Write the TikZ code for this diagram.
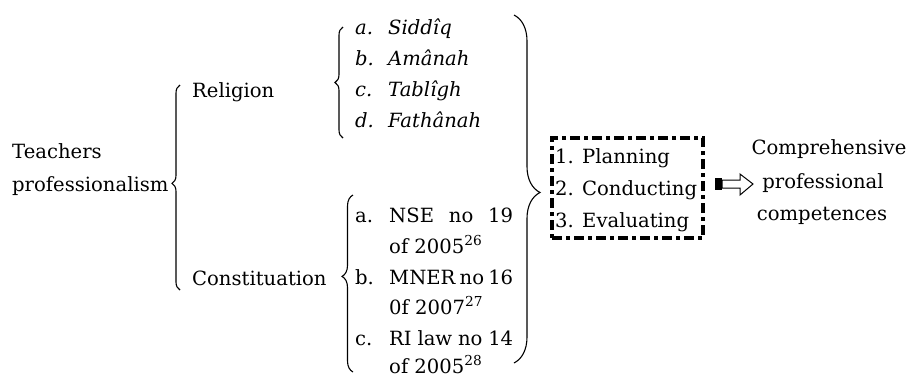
\documentclass[tikz,border=0pt]{standalone}
\usepackage{fontspec}
\setmainfont{DejaVu Serif}
\usetikzlibrary{decorations.pathreplacing}
\tikzset{every node/.style={inner sep=0pt, font=\fontsize{19.6}{24}\selectfont}}
\tikzset{lbl/.style={anchor=base west}}
\tikzset{itm/.style={anchor=base west, font=\fontsize{19.6}{24}\selectfont\itshape}}
\tikzset{mid/.style={anchor=base}}
\tikzset{curly/.style={decorate, line width=1.1pt}}
\tikzset{dashbox/.style={draw, line width=3.2pt,
    dash pattern=on 10pt off 4pt on 4pt off 4pt,
    minimum width=151pt, minimum height=100pt}}

\begin{document}
\begin{tikzpicture}[x=1pt, y=-1pt]
    \useasboundingbox (0,0) rectangle (911,376);
    \node[lbl] (teach) at (12,158) {Teachers};
    \node[lbl] (profm) at (12,191) {professionalism};
    \draw[curly, decoration={brace, amplitude=8pt, aspect=0.52}] (180,290) -- (180,85);
    \node[lbl] (relig) at (192,97) {Religion};
    \node[lbl] (const) at (192,285) {Constituation};
    % religion
    \draw[curly, decoration={brace, amplitude=8pt, aspect=0.5}] (343,138) -- (343,27);
    \node[itm] (ra) at (355,34) {a.};
    \node[itm] (rb) at (355,65) {b.};
    \node[itm] (rc) at (355,96) {c.};
    \node[itm] (rd) at (355,127) {d.};
    \node[itm] (siddiq) at (388,34) {Siddîq};
    \node[itm] (amanah) at (388,65) {Amânah};
    \node[itm] (tabligh) at (388,96) {Tablîgh};
    \node[itm] (fathanah) at (388,127) {Fathânah};
    % constitution
    \draw[curly, decoration={brace, amplitude=11pt, aspect=0.54}] (353,372) -- (353,195);
    \node[lbl] (ca) at (355,222) {a.};
    \node[lbl] (cb) at (355,284) {b.};
    \node[lbl] (cc) at (355,345) {c.};
    \node[lbl] (nse) at (389,222) {\makebox[124pt][s]{NSE no 19}};
    \node[lbl] (nse2) at (389,253) {of 2005\textsuperscript{26}};
    \node[lbl] (mner) at (389,284) {\makebox[124pt][s]{MNER no 16}};
    \node[lbl] (mner2) at (389,314) {0f 2007\textsuperscript{27}};
    \node[lbl] (ri) at (389,345) {\makebox[124pt][s]{RI law no 14}};
    \node[lbl] (ri2) at (389,373) {of 2005\textsuperscript{28}};
    \draw[curly, decoration={brace, amplitude=26pt, aspect=0.51}] (514,15) -- (514,363);
    % steps
    \node[dashbox] (box) at (627.5,188) {};
    \node[lbl] (plan) at (555,163) {1. Planning};
    \node[lbl] (cond) at (555,195) {2. Conducting};
    \node[lbl] (eval) at (555,227) {3. Evaluating};
    \node[mid] (comp) at (829,154) {Comprehensive};
    \node[mid] (prof) at (823,188) {professional};
    \node[mid] (compt) at (822,220) {competences};
    % hollow arrow
    \coordinate (arr) at (715,184);
    \fill (arr) ++(0,-6) rectangle ++(7,12);
    \draw[line width=1pt, line join=miter] (arr) ++(7,-4) -- ++(18,0) -- ++(0,-6)
        -- ++(13,10) -- ++(-13,11) -- ++(0,-7) -- ++(-18,0) -- cycle;
\end{tikzpicture}
\end{document}
